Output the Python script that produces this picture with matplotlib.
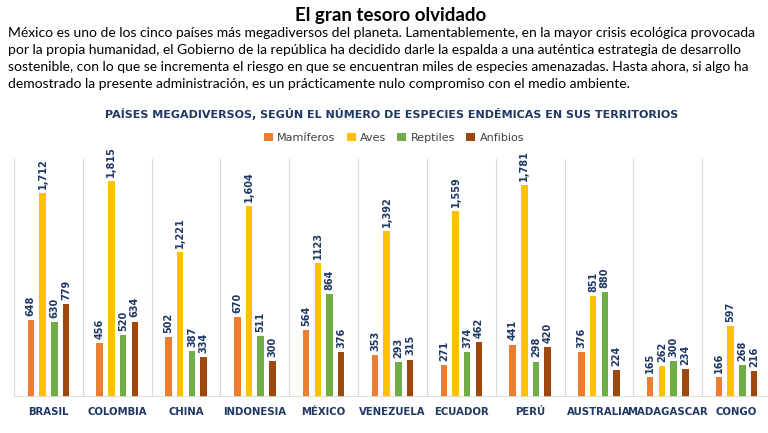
import matplotlib
matplotlib.use("Agg")
import matplotlib.pyplot as plt
from matplotlib.patches import Patch
import numpy as np

paises = ["BRASIL", "COLOMBIA", "CHINA", "INDONESIA", "MÉXICO", "VENEZUELA",
          "ECUADOR", "PERÚ", "AUSTRALIA", "MADAGASCAR", "CONGO"]
mamiferos = [648, 456, 502, 670, 564, 353, 271, 441, 376, 165, 166]
aves = [1712, 1815, 1221, 1604, 1123, 1392, 1559, 1781, 851, 262, 597]
reptiles = [630, 520, 387, 511, 864, 293, 374, 298, 880, 300, 268]
anfibios = [779, 634, 334, 300, 376, 315, 462, 420, 224, 234, 216]

series = ["Mamíferos", "Aves", "Reptiles", "Anfibios"]
colores = ["#ED7D31", "#FFC000", "#70AD47", "#9E480E"]

titulo = "El gran tesoro olvidado"
parrafo = [
    "México es uno de los cinco países más megadiversos del planeta. Lamentablemente, en la mayor crisis ecológica provocada",
    "por la propia humanidad, el Gobierno de la república ha decidido darle la espalda a una auténtica estrategia de desarrollo",
    "sostenible, con lo que se incrementa el riesgo en que se encuentran miles de especies amenazadas. Hasta ahora, si algo ha",
    "demostrado la presente administración, es un prácticamente nulo compromiso con el medio ambiente.",
]
subtitulo = "PAÍSES MEGADIVERSOS, SEGÚN EL NÚMERO DE ESPECIES ENDÉMICAS EN SUS TERRITORIOS"

navy = "#1F3864"

fig = plt.figure(figsize=(7.68, 4.33), dpi=100)
fig.patch.set_facecolor("white")

fig.text(0.508, 1 - 15 / 433, titulo, ha="center", va="center",
         fontsize=13.5, fontweight="bold", family="Lato", color="black")
for i, linea in enumerate(parrafo):
    fig.text(8 / 768, 1 - (33 + 17 * i) / 433, linea, ha="left", va="center",
             fontsize=10, family="Lato", color="black")
fig.text(0.51, 1 - 114 / 433, subtitulo, ha="center", va="center",
         fontsize=8, fontweight="bold", color=navy, family="DejaVu Sans")

ax = fig.add_axes([14 / 768, 36 / 433, 757 / 768, 238 / 433])
x = np.arange(len(paises))
paso = 0.17
ancho = 0.095
datos = [mamiferos, aves, reptiles, anfibios]

for k, (vals, col) in enumerate(zip(datos, colores)):
    pos = x + (k - 1.5) * paso
    ax.bar(pos, vals, width=ancho, color=col, zorder=2)
    for p, v, pais in zip(pos, vals, paises):
        txt = f"{v:,}"
        if pais == "MÉXICO" and k == 1:
            txt = str(v)
        ax.annotate(txt, (p, v), xytext=(0, 3), textcoords="offset points",
                    rotation=90, ha="center", va="bottom", fontsize=7,
                    fontweight="bold", color=navy)

ax.set_xlim(-0.5, len(paises) - 0.5)
ax.set_ylim(0, 2000)
for b in np.arange(-0.5, len(paises) - 0.5, 1.0):
    ax.axvline(b, color="#D9D9D9", lw=0.8, zorder=1)
ax.axhline(0, color="#D9D9D9", lw=1.2, zorder=3)

for s in ax.spines.values():
    s.set_visible(False)
ax.set_yticks([])
ax.set_xticks(x)
ax.set_xticklabels(paises, fontsize=7.3, fontweight="bold", color=navy)
ax.tick_params(axis="x", length=0, pad=7)

handles = [Patch(facecolor=c, edgecolor="none") for c in colores]
fig.legend(handles, series, loc="center", bbox_to_anchor=(0.513, 1 - 138 / 433),
           ncol=4, frameon=False, fontsize=8, handlelength=0.8, handleheight=0.8,
           handletextpad=0.4, columnspacing=1.0, labelcolor="#404040")

fig.savefig("out.png", dpi=100)
